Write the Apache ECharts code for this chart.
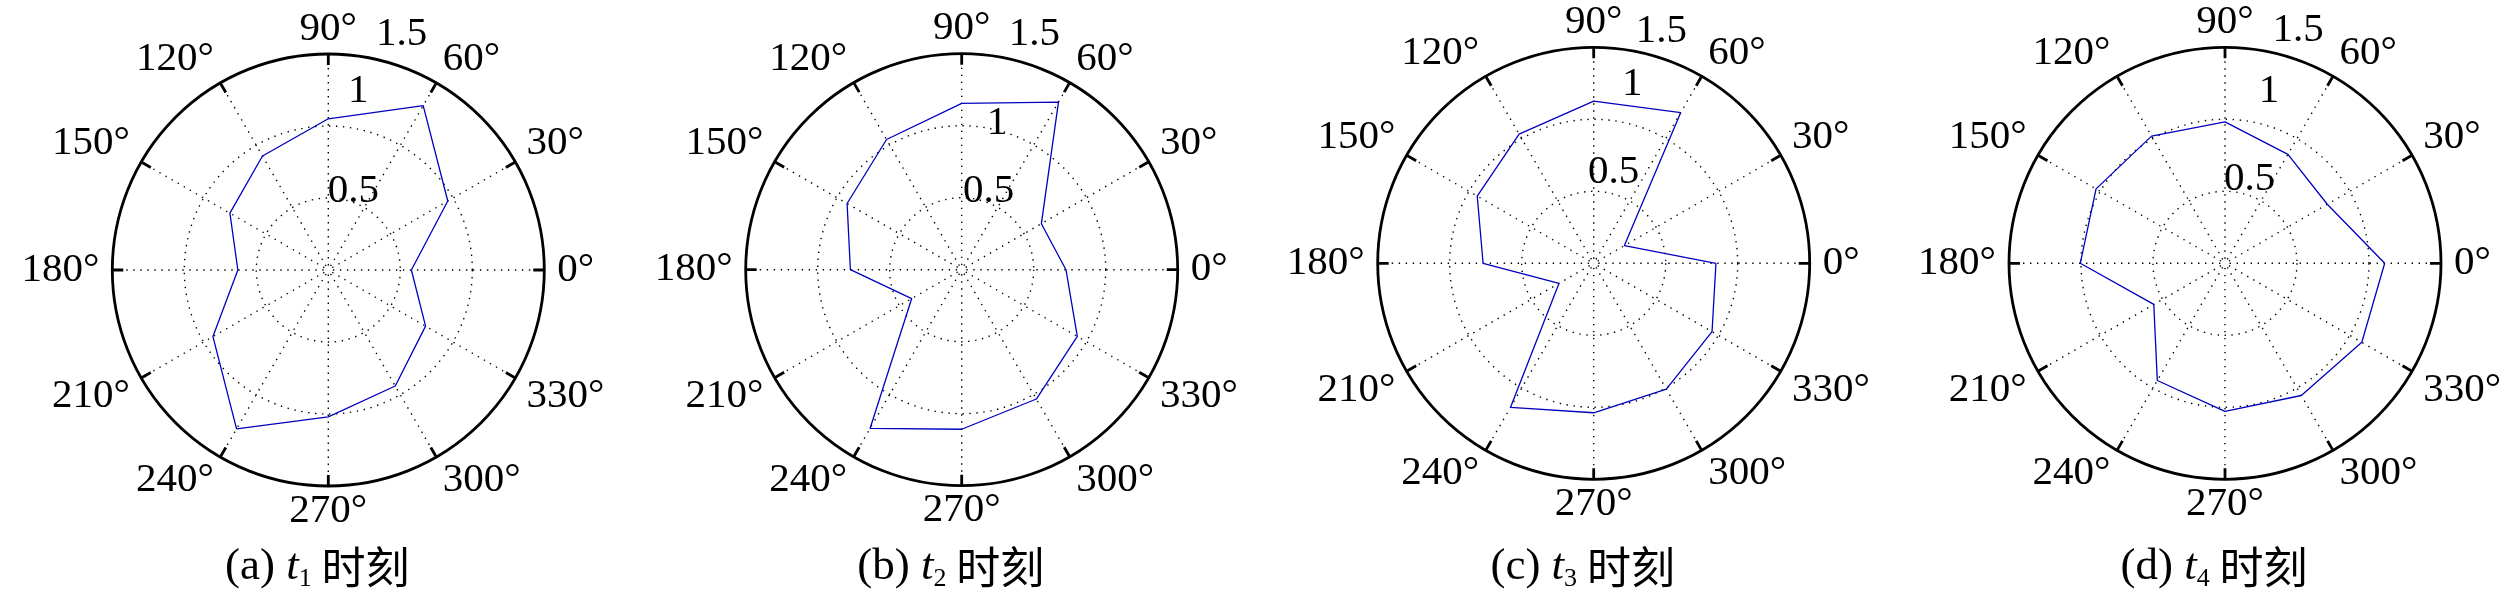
<!DOCTYPE html>
<html>
<head>
<meta charset="utf-8">
<script src="https://cdn.jsdelivr.net/npm/echarts@6/dist/echarts.min.js"></script>
<style>
html,body{margin:0;padding:0;background:#fff;}
#chart{width:2520px;height:604px;}
</style>
</head>
<body>
<div id="chart"></div>
<script>
// ---- data ----
const angles = [0, 30, 60, 90, 120, 150, 180, 210, 240, 270, 300, 330];
const angleTickLabels = ['0°','30°','60°','90°','120°','150°','180°','210°','240°','270°','300°','330°'];
const radiusTicks = [0.5, 1, 1.5];
const radiusTickLabels = ['0.5', '1', '1.5'];

const seriesT1 = [0.577, 0.958, 1.318, 1.050, 0.914, 0.789, 0.628, 0.925, 1.274, 1.020, 0.930, 0.780];
const seriesT2 = [0.724, 0.639, 1.344, 1.155, 1.044, 0.919, 0.773, 0.401, 1.273, 1.108, 1.037, 0.927];
const seriesT3 = [0.849, 0.246, 1.209, 1.126, 1.036, 0.934, 0.768, 0.278, 1.156, 1.038, 1.009, 0.949];
const seriesT4 = [1.109, 0.820, 0.874, 0.982, 1.020, 1.034, 1.005, 0.571, 0.940, 1.028, 1.060, 1.097];

const panelLetters = ['(a)', '(b)', '(c)', '(d)'];
const panelSubscripts = ['1', '2', '3', '4'];
const panelSuffix = '时刻';

// ---- layout (positions / sizes) ----
const centers = [[328.3, 270], [961.7, 269.7], [1593.7, 263.3], [2225, 263.3]];
const outerRadius = 216;
const rLabelOffsets = [
  [[25, -7.2], [30, -35.2], [73.4, -19.9]],
  [[27, -6.9], [35.3, -2.4], [72.7, -19]],
  [[20, -19.1], [38.6, -35.1], [67.6, -16.5]],
  [[24.7, -12.1], [44, -28.5], [73, -17.3]]
];
const titleDx = -11, titleY = 567;

const allSeries = [seriesT1, seriesT2, seriesT3, seriesT4];
const SERIF = "'Liberation Serif', 'Times New Roman', serif";
const dotted = [1.4, 5.6];

const polar = [], angleAxis = [], radiusAxis = [], series = [], graphic = [];

allSeries.forEach(function (vals, i) {
  polar.push({ center: centers[i], radius: [0, outerRadius] });
  angleAxis.push({
    polarIndex: i, type: 'value', min: 0, max: 360, interval: 30,
    startAngle: 0, clockwise: false,
    axisLine: { show: true, lineStyle: { color: '#000', width: 2.8 } },
    axisTick: { show: true, inside: true, length: 11, lineStyle: { color: '#000', width: 2.8 } },
    axisLabel: {
      show: true, margin: 13, color: '#000', fontSize: 41, fontFamily: SERIF, lineHeight: 24,
      formatter: function (v) { return v >= 360 ? '' : angleTickLabels[angles.indexOf(v)]; }
    },
    splitLine: { show: true, lineStyle: { color: '#000', width: 1.4, type: dotted } }
  });
  radiusAxis.push({
    polarIndex: i, type: 'value', min: 0, max: 1.5, interval: 0.5,
    axisLine: { show: false }, axisTick: { show: false }, axisLabel: { show: false },
    splitLine: { show: true, lineStyle: { color: '#000', width: 1.4, type: dotted } }
  });
  const lineData = angles.map(function (a, k) { return [vals[k], a]; });
  lineData.push([vals[0], 360]);
  series.push({
    type: 'line', coordinateSystem: 'polar', polarIndex: i,
    data: lineData, symbol: 'none', silent: true, animation: false, clip: false,
    lineStyle: { color: '#0000c0', width: 1.3 }, z: 5
  });
  series.push({
    type: 'scatter', coordinateSystem: 'polar', polarIndex: i,
    symbolSize: 0, itemStyle: { color: '#000' }, silent: true, animation: false, clip: false,
    data: radiusTicks.map(function (t, k) {
      return {
        value: [t, 90],
        label: { show: true, position: 'inside', offset: rLabelOffsets[i][k], formatter: radiusTickLabels[k],
          color: '#000', opacity: 1, textBorderWidth: 0, fontSize: 41, fontFamily: SERIF }
      };
    }), z: 6
  });
  graphic.push({
    type: 'text', x: centers[i][0] + titleDx, y: titleY, silent: true,
    style: {
      text: '{n|' + panelLetters[i] + ' }{i|t}{s|' + panelSubscripts[i] + '}{c| ' + panelSuffix + '}',
      align: 'center', verticalAlign: 'middle',
      rich: {
        n: { fontSize: 45, fontFamily: SERIF, color: '#000', lineHeight: 50 },
        i: { fontSize: 45, fontFamily: SERIF, fontStyle: 'italic', color: '#000', lineHeight: 50 },
        s: { fontSize: 26, fontFamily: SERIF, color: '#000', lineHeight: 22, verticalAlign: 'bottom' },
        c: { fontSize: 44, fontFamily: "'Noto Sans CJK SC', sans-serif", color: '#000', lineHeight: 50 }
      }
    }
  });
});

const chart = echarts.init(document.getElementById('chart'));
chart.setOption({
  animation: false,
  backgroundColor: '#fff',
  polar: polar, angleAxis: angleAxis, radiusAxis: radiusAxis,
  series: series, graphic: graphic
});
</script>
</body>
</html>
